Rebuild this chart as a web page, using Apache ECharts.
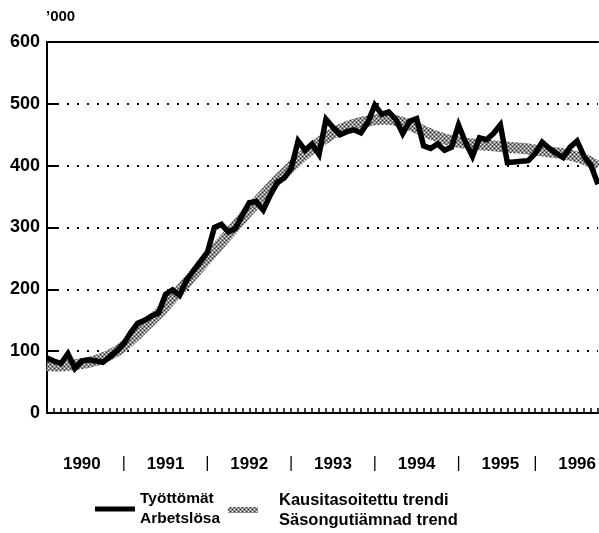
<!DOCTYPE html>
<html>
<head>
<meta charset="utf-8">
<script src="https://cdn.jsdelivr.net/npm/echarts@6/dist/echarts.min.js"></script>
<style>
	html, body { margin: 0; padding: 0; background: #fff; }
	#chart { width: 599px; height: 533px; }
</style>
</head>
<body>
<div id="chart"></div>
<script>
// kuukausittain tammikuu 1990 - elokuu 1996
const startYear = 1990
const monthCount = 80

// Työttömät / Arbetslösa, tuhatta
const tyottomat = [
	89, 84, 80, 96, 72, 84, 86, 84, 82, 91, 100, 112,
	130, 145, 150, 157, 162, 192, 199, 190, 215, 230, 245, 260,
	300, 305, 293, 298, 320, 340, 342, 328, 352, 373, 380, 395,
	440, 425, 435, 418, 475, 462, 450, 455, 458, 453, 470, 498,
	483, 487, 475, 452, 472, 476, 432, 428, 435, 425, 430, 466,
	438, 415, 445, 442, 452, 466, 405, 406, 407, 408, 420, 438,
	428, 420, 413, 430, 440, 415, 400, 370,
]

// Kausitasoitettu trendi / Säsongutjämnad trend
const trendi = [
	77, 76, 76, 77, 78, 80, 82, 85, 89, 94, 100, 108,
	118, 128, 139, 150, 161, 173, 186, 198, 211, 224, 237, 250,
	263, 276, 289, 302, 315, 328, 340, 352, 364, 376, 387, 398,
	409, 419, 428, 437, 445, 452, 458, 463, 467, 470, 472, 474,
	475, 475, 473, 470, 466, 461, 456, 451, 447, 443, 440, 438,
	436, 435, 434, 433, 432, 431, 430, 429, 428, 427, 425, 424,
	422, 421, 419, 417, 414, 410, 405, 398,
]

const yearLabels = ['1990', '1991', '1992', '1993', '1994', '1995', '1996']
const yearLabelPos = [5, 17, 29, 41, 53, 65, 76]
const sepPos = [11, 23, 35, 47, 59, 70]

const nimiA = 'Työttömät\nArbetslösa'
const nimiB = 'Kausitasoitettu trendi\nSäsongutiämnad trend'

const kuukaudet = []
for (let i = 0; i < monthCount; i++) {
	kuukaudet.push(`${startYear + Math.floor(i / 12)}-${(i % 12) + 1}`)
}

// harmaa rasteri trendille
const rasteri = document.createElement('canvas')
rasteri.width = 4
rasteri.height = 4
const rc = rasteri.getContext('2d')
rc.fillStyle = '#8c8c8c'
rc.fillRect(0, 0, 4, 4)
rc.fillStyle = '#ffffff'
rc.fillRect(0, 0, 1, 1)
rc.fillRect(2, 2, 1, 1)
rc.fillStyle = '#333333'
rc.fillRect(2, 0, 1, 1)
rc.fillRect(0, 2, 1, 1)
const rasteriVari = { image: rasteri, repeat: 'repeat' }

const fontti = 'Liberation Sans'

const myChart = echarts.init(document.getElementById('chart'))

let option = {
	animation: false,
	grid: {
		left: 47,
		right: 0,
		top: 42,
		bottom: 120,
	},
	graphic: [
		{
			type: 'text',
			left: 46,
			top: 9,
			style: { text: '’000', font: `bold 15px "${fontti}"`, fill: '#000' },
		},
	],
	legend: [
		{
			data: [{ name: nimiA, itemStyle: { color: '#000' } }],
			left: 95,
			top: 489,
			padding: 0,
			icon: 'rect',
			itemWidth: 40,
			itemHeight: 5,
			itemGap: 0,
			textStyle: { fontFamily: fontti, fontWeight: 'bold', fontSize: 15.5, color: '#000', lineHeight: 20 },
		},
		{
			data: [{ name: nimiB, itemStyle: { color: rasteriVari } }],
			left: 228,
			top: 490,
			padding: 0,
			icon: 'rect',
			itemWidth: 30,
			itemHeight: 6,
			itemGap: 0,
			textStyle: { fontFamily: fontti, fontWeight: 'bold', fontSize: 16.5, color: '#000', lineHeight: 20, padding: [0, 0, 0, 16] },
		},
	],
	xAxis: [
		{
			type: 'category',
			boundaryGap: false,
			data: kuukaudet,
			axisLine: { lineStyle: { color: '#000', width: 2 } },
			axisTick: { inside: true, length: 5, interval: 0, lineStyle: { color: '#000', width: 1.5 } },
			axisLabel: {
				interval: (i) => yearLabelPos.includes(i) || sepPos.includes(i),
				margin: 43,
				color: '#000',
				fontFamily: fontti,
				fontWeight: 'bold',
				fontSize: 17,
				formatter: (v, i) => {
					const k = yearLabelPos.indexOf(i)
					if (k >= 0) return yearLabels[k]
					return '{s||}'
				},
				rich: {
					s: { fontFamily: fontti, fontWeight: 'normal', fontSize: 16, color: '#000' },
				},
			},
			splitLine: { show: false },
		},
		{
			type: 'category',
			boundaryGap: false,
			position: 'top',
			data: kuukaudet,
			axisLine: { lineStyle: { color: '#000', width: 2 } },
			axisTick: { show: false },
			axisLabel: { show: false },
		},
	],
	yAxis: {
		type: 'value',
		min: 0,
		max: 600,
		interval: 100,
		axisLine: { show: true, lineStyle: { color: '#000', width: 2 } },
		axisTick: { show: true, inside: true, length: 10, lineStyle: { color: '#000', width: 2 } },
		axisLabel: {
			margin: 7,
			color: '#000',
			fontFamily: fontti,
			fontWeight: 'bold',
			fontSize: 18,
		},
		splitLine: {
			lineStyle: { color: '#000', width: 2, type: [2, 8] },
		},
	},
	series: [
		{
			name: nimiB,
			type: 'line',
			data: trendi,
			symbol: 'none',
			smooth: 0.3,
			lineStyle: { color: rasteriVari, width: 11 },
			itemStyle: { color: '#8c8c8c' },
			z: 2,
		},
		{
			name: nimiA,
			type: 'line',
			data: tyottomat,
			symbol: 'none',
			lineStyle: { color: '#000', width: 5.5, join: 'miter', miterLimit: 4 },
			itemStyle: { color: '#000' },
			z: 3,
		},
	],
}
myChart.setOption(option)

window.addEventListener('resize', () => {
	myChart.resize()
})
</script>
</body>
</html>
